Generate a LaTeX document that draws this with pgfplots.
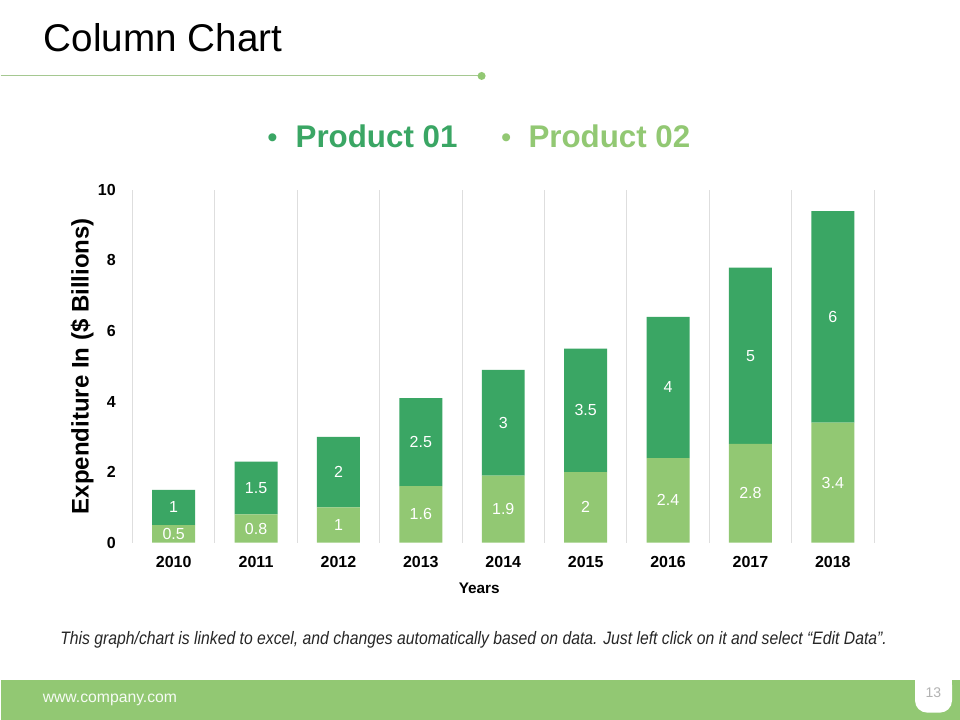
\documentclass[border=0pt]{standalone}
\usepackage{pgfplots}
\pgfplotsset{compat=1.18}
\usepackage{fontspec}
\setmainfont{Liberation Sans}
\newfontfamily\narrowfont[FakeStretch=0.875]{Liberation Sans}
\definecolor{dkgreen}{RGB}{58,166,100}
\definecolor{ltgreen}{RGB}{146,200,115}
\definecolor{linegreen}{RGB}{165,200,145}
\definecolor{gridgray}{RGB}{222,222,222}
\begin{document}
\begin{tikzpicture}
\fill[white] (0pt,0pt) rectangle (720pt,540pt);
% title
\node[anchor=base west, inner sep=0pt, font=\fontsize{29}{34}\selectfont] at (32.25pt,501pt) {Column Chart};
\draw[linegreen, line width=0.8pt] (0pt,483pt) -- (360pt,483pt);
\fill[ltgreen] (361pt,483pt) circle (3pt);
% legend
\node[anchor=base, inner sep=0pt, text=dkgreen, font=\fontsize{22}{26}\selectfont] at (204pt,429pt) {\textbullet};
\node[anchor=base west, inner sep=0pt, text=dkgreen, font=\bfseries\fontsize{23.5}{27}\selectfont] at (221.25pt,429pt) {Product 01};
\node[anchor=base, inner sep=0pt, text=ltgreen, font=\fontsize{22}{26}\selectfont] at (379.5pt,429pt) {\textbullet};
\node[anchor=base west, inner sep=0pt, text=ltgreen, font=\bfseries\fontsize{23.5}{27}\selectfont] at (396pt,429pt) {Product 02};
\begin{axis}[
  at={(99pt,132.75pt)}, anchor=south west,
  scale only axis, width=556.5pt, height=264.75pt,
  ybar stacked, bar width=32.25pt,
  xmin=-0.5, xmax=8.5, ymin=0, ymax=10,
  xtick={0,...,8},
  xticklabels={2010,2011,2012,2013,2014,2015,2016,2017,2018},
  minor xtick={-0.5,0.5,...,8.5},
  xminorgrids, minor grid style={gridgray, line width=0.7pt},
  ytick={0,2,...,10},
  major tick length=0pt, minor tick length=0pt,
  axis line style={draw=none},
  /pgf/number format/assume math mode=true,
  ticklabel style={font=\bfseries\fontsize{12}{14}\selectfont},
  xticklabel style={yshift=-7pt},
  yticklabel style={xshift=-9pt},
  xlabel={Years}, xlabel style={font=\bfseries\fontsize{11.5}{14}\selectfont, yshift=-4pt, xshift=-18pt},
  ylabel={Expenditure In (\$ Billions)}, ylabel style={font=\bfseries\fontsize{18}{22}\selectfont, yshift=-3.5pt},
  point meta=rawy,
  nodes near coords,
  every node near coord/.append style={anchor=center, text=white, font=\fontsize{12}{14}\selectfont},
]
\addplot[fill=ltgreen, draw=none] coordinates {(0,0.5) (1,0.8) (2,1) (3,1.6) (4,1.9) (5,2) (6,2.4) (7,2.8) (8,3.4)};
\addplot[fill=dkgreen, draw=none] coordinates {(0,1) (1,1.5) (2,2) (3,2.5) (4,3) (5,3.5) (6,4) (7,5) (8,6)};
\end{axis}
% footnote
\node[anchor=center, inner sep=0pt, text=black!85, font=\itshape\narrowfont\fontsize{13.5}{16}\selectfont] at (355pt,60pt) {This graph/chart is linked to excel, and changes automatically based on data. Just left click on it and select “Edit Data”.};
% bottom bar
\fill[ltgreen] (0pt,0pt) rectangle (720pt,30pt);
\node[anchor=west, inner sep=0pt, text=white!92!ltgreen, font=\fontsize{11.8}{14}\selectfont] at (31.5pt,14.5pt) {www.company.com};
\fill[white, rounded corners=9pt] (686.25pt,35pt) -- (714pt,35pt) -- (714pt,5.25pt) -- (686.25pt,5.25pt) -- cycle;
\fill[white] (686.25pt,22pt) rectangle (714pt,35pt);
\node[text=black!30, font=\fontsize{10.5}{12}\selectfont] at (700pt,20.25pt) {13};
\end{tikzpicture}
\end{document}
